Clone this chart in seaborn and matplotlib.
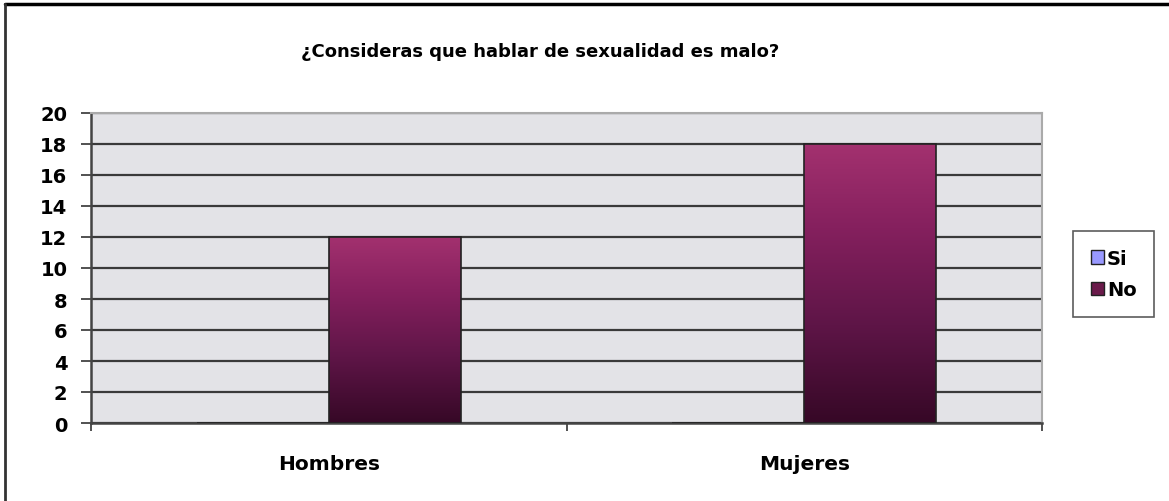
import numpy as np
import pandas as pd
import matplotlib
matplotlib.use("Agg")
import matplotlib.pyplot as plt
import seaborn as sns
from matplotlib.lines import Line2D
from matplotlib.patches import Patch

categories = ["Hombres", "Mujeres"]
series = ["Si", "No"]
si_values = [0, 0]
no_values = [12, 18]
yticks = list(range(0, 21, 2))
title = "¿Consideras que hablar de sexualidad es malo?"

df = pd.DataFrame({
    "cat": categories * 2,
    "serie": ["Si"] * len(categories) + ["No"] * len(categories),
    "val": si_values + no_values,
})

sns.set_style("white")
plt.rcParams["font.family"] = ["DejaVu Sans"]
plt.rcParams["font.weight"] = "bold"
plt.rcParams["text.color"] = "black"
plt.rcParams["xtick.color"] = "black"
plt.rcParams["ytick.color"] = "black"

fig = plt.figure(figsize=(11.69, 5.02), dpi=100)
ax = fig.add_axes([91/1169, 1-424/502, (1042-91)/1169, (424-114)/502])
ax.set_facecolor("#e3e3e7")

pal = {"Si": "#9999ff", "No": "#7a1f55"}
sns.barplot(data=df, x="cat", y="val", hue="serie", hue_order=series,
            palette=pal, width=0.555, ax=ax, legend=False,
            edgecolor="#222222", linewidth=1.2, zorder=3)

ax.set_ylim(0, 20)
ax.set_xlim(-0.5, 1.5)
ax.set_yticks(yticks)
ax.set_yticklabels([str(t) for t in yticks], fontsize=14, fontweight="bold", color="black")
ax.yaxis.grid(True, color="#3a3a3a", linewidth=1.6, zorder=1)
ax.set_axisbelow(True)
ax.set_xlabel("")
ax.set_ylabel("")
ax.set_xticks([0, 1])
ax.set_xticklabels(categories, fontsize=14.5, fontweight="bold", color="black")
ax.tick_params(axis="x", length=0, pad=22)
ax.tick_params(axis="y", length=7, width=1.2, color="#333333", direction="out", pad=10, left=True)
# category boundary ticks
ax.set_xticks([-0.5, 0.5, 1.5], minor=True)
ax.tick_params(axis="x", which="minor", length=6, width=1.2, color="#333333", direction="out", bottom=True)

for s in ["top", "right"]:
    ax.spines[s].set_visible(True)
    ax.spines[s].set_color("#aaaaaa")
    ax.spines[s].set_linewidth(1.5)
for s in ["left", "bottom"]:
    ax.spines[s].set_color("#444444")
    ax.spines[s].set_linewidth(1.8)

# gradient fill for the "No" bars
grad = np.linspace(0, 1, 256).reshape(-1, 1)
cmap = matplotlib.colors.LinearSegmentedColormap.from_list(
    "g", [(0.0, "#360826"), (0.35, "#5e1547"), (0.7, "#85205e"), (1.0, "#a3316f")])
for p in ax.patches:
    h = p.get_height()
    if h > 0:
        x0, y0 = p.get_x(), p.get_y()
        w = p.get_width()
        im = ax.imshow(grad, cmap=cmap, extent=[x0, x0 + w, y0, y0 + h],
                       origin="lower", aspect="auto", zorder=3.5)
        im.set_clip_path(p)
        p.set_facecolor("none")
        p.set_zorder(4)
ax.set_xlim(-0.5, 1.5)
ax.set_ylim(0, 20)

fig.text(540/1169, 1-52/502, title, ha="center", va="center", fontsize=13, fontweight="bold", color="black")

handles = [Patch(facecolor=pal["Si"], edgecolor="#222222", label="Si"),
           Patch(facecolor="#6a1a4a", edgecolor="#222222", label="No")]
leg = fig.legend(handles=handles, loc="center left", bbox_to_anchor=(1073/1169, 1-275/502),
                 frameon=True, fancybox=False, fontsize=14, handlelength=0.7, handleheight=0.7,
                 handletextpad=0.15, borderpad=0.9, labelspacing=0.65, borderaxespad=0)
leg.get_frame().set_edgecolor("#333333")
leg.get_frame().set_linewidth(1.2)
for t in leg.get_texts():
    t.set_fontweight("bold")
    t.set_color("black")

# outer chart frame (top and left visible)
fig.add_artist(Line2D([5/1169, 1], [1-5/502, 1-5/502], color="black", linewidth=2.5, transform=fig.transFigure))
fig.add_artist(Line2D([5/1169, 5/1169], [0, 1-5/502], color="#333333", linewidth=2, transform=fig.transFigure))

fig.savefig("out.png", dpi=100)
